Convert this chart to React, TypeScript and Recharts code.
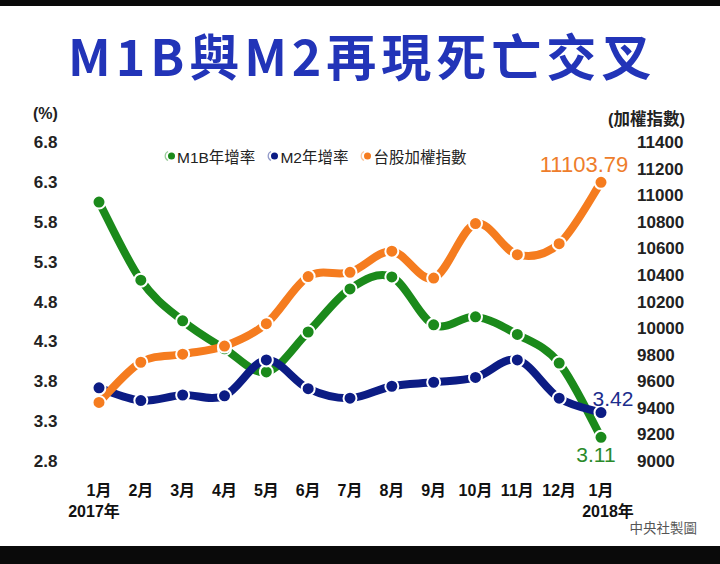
import React from 'react';
import { LineChart, Line, XAxis, YAxis, Legend } from 'recharts';

const months = ['1月', '2月', '3月', '4月', '5月', '6月', '7月', '8月', '9月', '10月', '11月', '12月', '1月'];
const m1b = [6.06, 5.08, 4.57, 4.22, 3.93, 4.43, 4.97, 5.12, 4.52, 4.62, 4.40, 4.04, 3.11];
const m2 = [3.73, 3.57, 3.64, 3.63, 4.08, 3.72, 3.60, 3.75, 3.80, 3.86, 4.08, 3.60, 3.42];
const taiex = [9447.94, 9750.49, 9811.52, 9872.0, 10040.76, 10395.07, 10427.33, 10585.78, 10383.48, 10793.93, 10560.13, 10642.86, 11103.79];
const leftTicks = [2.8, 3.3, 3.8, 4.3, 4.8, 5.3, 5.8, 6.3, 6.8];
const rightTicks = [9000, 9200, 9400, 9600, 9800, 10000, 10200, 10400, 10600, 10800, 11000, 11200, 11400];
const yearLabels = ['2017年', '2018年'];

const data = months.map((m, i) => ({ i, month: m, m1b: m1b[i], m2: m2[i], taiex: taiex[i] }));

const GREEN = '#1b8a1b';
const NAVY = '#0c1c84';
const ORANGE = '#f57c1f';

const tickFont = "'Liberation Sans', Arial, 'Noto Sans CJK TC', sans-serif";

const curveSmooth: any = (context: any) => {
  let pts: number[][] = [];
  return {
    areaStart() {},
    areaEnd() {},
    lineStart() { pts = []; },
    point(x: number, y: number) { pts.push([+x, +y]); },
    lineEnd() {
      const n = pts.length;
      if (!n) return;
      context.moveTo(pts[0][0], pts[0][1]);
      for (let k = 0; k < n - 1; k++) {
        const p0 = pts[Math.max(k - 1, 0)];
        const p1 = pts[k];
        const p2 = pts[k + 1];
        const p3 = pts[Math.min(k + 2, n - 1)];
        context.bezierCurveTo(
          p1[0] + (p2[0] - p0[0]) / 6,
          p1[1] + (p2[1] - p0[1]) / 6,
          p2[0] - (p3[0] - p1[0]) / 6,
          p2[1] - (p3[1] - p1[1]) / 6,
          p2[0],
          p2[1]
        );
      }
    },
  };
};

const LeftTick = (props: any) => (
  <text x={props.x} y={props.y} dy={5} textAnchor="end" fontFamily={tickFont} fontWeight="bold" fontSize={17} fill="#222">
    {Number(props.payload.value).toFixed(1)}
  </text>
);

const RightTick = (props: any) => (
  <text x={props.x} y={props.y} dy={5} textAnchor="start" fontFamily={tickFont} fontWeight="bold" fontSize={17} fill="#222">
    {props.payload.value}
  </text>
);

const BottomTick = (props: any) => {
  const idx = props.payload.value;
  return (
    <g>
      <text x={props.x} y={props.y} textAnchor="middle" fontFamily={tickFont} fontWeight="bold" fontSize={16} fill="#111">
        {months[idx]}
      </text>
      {idx === 0 && (
        <text x={props.x - 5} y={props.y + 21} textAnchor="middle" fontFamily={tickFont} fontWeight="bold" fontSize={16} fill="#111">
          {yearLabels[0]}
        </text>
      )}
      {idx === months.length - 1 && (
        <text x={props.x + 7} y={props.y + 21} textAnchor="middle" fontFamily={tickFont} fontWeight="bold" fontSize={16} fill="#111">
          {yearLabels[1]}
        </text>
      )}
    </g>
  );
};

const makeEndLabel = (color: string, fmt: (v: number) => string, dx: number, dy: number, size: number) => (props: any) => {
  if (props.index !== months.length - 1) return null;
  return (
    <text x={props.x + dx} y={props.y + dy} textAnchor="middle" fontFamily="'Liberation Sans', Arial, sans-serif" fontSize={size} fill={color}>
      {fmt(props.value)}
    </text>
  );
};

const LegendContent = (props: any) => {
  const items = props.payload || [];
  return (
    <div style={{ height: 0, overflow: 'visible', position: 'relative' }}>
      <div style={{ position: 'absolute', left: 0, top: 0, display: 'flex', alignItems: 'center', whiteSpace: 'nowrap', fontFamily: "'Liberation Sans', Arial, 'Noto Sans CJK TC', sans-serif", fontSize: 15.5, color: '#222' }}>
        {items.map((it: any, k: number) => (
          <div key={k} style={{ display: 'flex', alignItems: 'center', marginRight: 12 }}>
            <svg width={12} height={12} style={{ marginRight: 1 }}>
              <path d="M 4 1.5 A 5 5 0 0 0 4 10.5" fill="none" stroke={it.color} strokeOpacity={0.45} strokeWidth={1.2} />
              <circle cx={7.5} cy={6} r={3.5} fill={it.color} />
            </svg>
            <span>{it.value}</span>
          </div>
        ))}
      </div>
    </div>
  );
};

export default function App() {
  return (
    <div style={{ position: 'absolute', left: 0, top: 0, width: 720, height: 564, background: '#fff', overflow: 'hidden' }}>
      <div style={{ position: 'absolute', left: 0, top: 0, width: 720, height: 6, background: '#0a0a0a' }} />
      <div style={{ position: 'absolute', left: 0, top: 546, width: 720, height: 18, background: '#0a0a0a' }} />
      <div style={{ position: 'absolute', left: 0, top: 0 }}>
        <LineChart width={720} height={564} data={data} margin={{ top: 143, right: 20, bottom: 72, left: 33 }}>
          <XAxis
            dataKey="i"
            type="number"
            domain={[0, 12]}
            ticks={months.map((_, k) => k)}
            axisLine={false}
            tickLine={false}
            tickSize={0}
            tickMargin={34}
            height={30}
            interval={0}
            tick={<BottomTick />}
          />
          <YAxis
            yAxisId="left"
            orientation="left"
            domain={[2.8, 6.8]}
            ticks={leftTicks}
            axisLine={false}
            tickLine={false}
            tickSize={0}
            tickMargin={41.5}
            width={66}
            interval={0}
            tick={<LeftTick />}
          />
          <YAxis
            yAxisId="right"
            orientation="right"
            domain={[9000, 11400]}
            ticks={rightTicks}
            axisLine={false}
            tickLine={false}
            tickSize={0}
            tickMargin={36}
            width={99}
            interval={0}
            tick={<RightTick />}
          />
          <Legend
            verticalAlign="top"
            align="left"
            content={<LegendContent />}
            wrapperStyle={{ position: 'absolute', top: 145, left: 164, width: 400, height: 0 }}
          />
          <Line
            yAxisId="left"
            dataKey="m1b"
            name="M1B年增率"
            type={curveSmooth}
            stroke={GREEN}
            strokeWidth={8}
            dot={{ r: 6.5, fill: GREEN, stroke: '#fff', strokeWidth: 2 }}
            activeDot={false}
            isAnimationActive={false}
            label={makeEndLabel('#2a8a2a', (v) => v.toFixed(2), -5, 25, 21)}
          />
          <Line
            yAxisId="left"
            dataKey="m2"
            name="M2年增率"
            type={curveSmooth}
            stroke={NAVY}
            strokeWidth={8}
            dot={{ r: 6.5, fill: NAVY, stroke: '#fff', strokeWidth: 2 }}
            activeDot={false}
            isAnimationActive={false}
            label={makeEndLabel('#1c2d8c', (v) => v.toFixed(2), 12, -7, 21)}
          />
          <Line
            yAxisId="right"
            dataKey="taiex"
            name="台股加權指數"
            type={curveSmooth}
            stroke={ORANGE}
            strokeWidth={8}
            dot={{ r: 6.5, fill: ORANGE, stroke: '#fff', strokeWidth: 2 }}
            activeDot={false}
            isAnimationActive={false}
            label={makeEndLabel('#ee7d2b', (v) => v.toFixed(2), -17, -10, 22)}
          />
        </LineChart>
      </div>
      <svg width={720} height={564} style={{ position: 'absolute', left: 0, top: 0, pointerEvents: 'none' }}>
        <text x={68} y={76} fontFamily="'Noto Sans CJK TC', sans-serif" fontWeight={700} fontSize={50} letterSpacing={5} fill="#2234b8">
          M1B與M2再現死亡交叉
        </text>
        <text x={33} y={119} fontFamily={tickFont} fontWeight="bold" fontSize={16} fill="#222">(%)</text>
        <text x={608} y={125} fontFamily={tickFont} fontWeight="bold" fontSize={16.5} fill="#222">(加權指數)</text>
        <text x={697} y={533} textAnchor="end" fontFamily="'Noto Sans CJK TC', sans-serif" fontSize={13.5} fill="#555">中央社製圖</text>
      </svg>
    </div>
  );
}
